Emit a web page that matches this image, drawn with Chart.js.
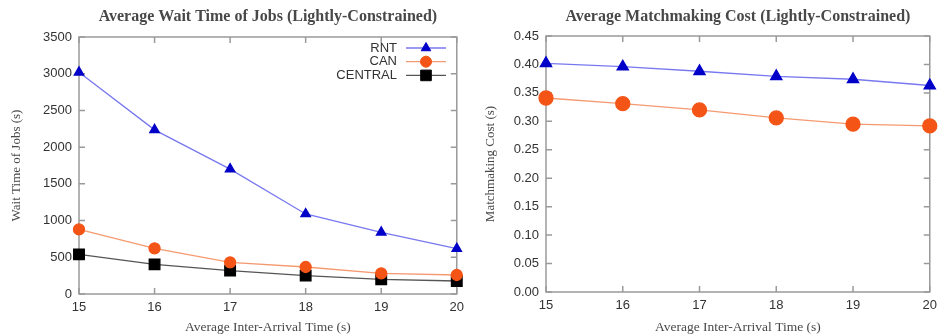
<!DOCTYPE html>
<html>
<head>
<meta charset="utf-8">
<script src="https://cdn.jsdelivr.net/npm/chart.js@4.4.1/dist/chart.umd.min.js"></script>
<style>
  html, body { margin: 0; padding: 0; background: #fff; }
  .wrap { display: flex; width: 943px; height: 336px; }
  #box1 { position: relative; width: 470px; height: 336px; }
  #box2 { position: relative; width: 473px; height: 336px; }
</style>
</head>
<body>
<div class="wrap">
  <div id="box1"><canvas id="chart1"></canvas></div>
  <div id="box2"><canvas id="chart2"></canvas></div>
</div>
<script>
// data
var arrivalTimes = [15, 16, 17, 18, 19, 20];

var waitRNT     = [3020, 2235, 1700, 1090, 840, 617];
var waitCAN     = [880, 622, 432, 368, 282, 259];
var waitCENTRAL = [540, 404, 318, 250, 200, 177];

var costRNT = [0.402, 0.396, 0.388, 0.379, 0.374, 0.363];
var costCAN = [0.341, 0.331, 0.320, 0.306, 0.295, 0.292];

var waitTicks = [0, 500, 1000, 1500, 2000, 2500, 3000, 3500];
var costTicks = [0, 0.05, 0.10, 0.15, 0.20, 0.25, 0.30, 0.35, 0.40, 0.45];

function pts(ys) {
	return arrivalTimes.map(function(x, i) { return { x: x, y: ys[i] }; });
}

var axisGray = "#9a9a9a";
var textGray = "#333333";
var serifGray = "#484848";

// gnuplot style frame with inward ticks on all four sides
var frameTicks = {
	id: "frameTicks",
	beforeDatasetsDraw: function(chart) {
		var ctx = chart.ctx, a = chart.chartArea, len = 6;
		var xs = chart.scales.x, ys = chart.scales.y;
		ctx.save();
		ctx.strokeStyle = axisGray;
		ctx.lineWidth = 1.5;
		ctx.strokeRect(a.left, a.top, a.right - a.left, a.bottom - a.top);
		ctx.beginPath();
		xs.ticks.forEach(function(t) {
			var px = xs.getPixelForValue(t.value);
			ctx.moveTo(px, a.bottom); ctx.lineTo(px, a.bottom - len);
			ctx.moveTo(px, a.top); ctx.lineTo(px, a.top + len);
		});
		ys.ticks.forEach(function(t) {
			var py = ys.getPixelForValue(t.value);
			ctx.moveTo(a.left, py); ctx.lineTo(a.left + len, py);
			ctx.moveTo(a.right, py); ctx.lineTo(a.right - len, py);
		});
		ctx.stroke();
		ctx.restore();
	}
};

// title centred over the plot area
var topTitle = {
	id: "topTitle",
	afterDraw: function(chart, args, opts) {
		var ctx = chart.ctx, a = chart.chartArea;
		ctx.save();
		ctx.fillStyle = serifGray;
		ctx.font = "bold 16px 'Liberation Serif', serif";
		ctx.textAlign = "center";
		ctx.textBaseline = "middle";
		ctx.fillText(opts.text, (a.left + a.right) / 2, opts.y);
		ctx.restore();
	}
};

// legend: label on the left, line sample with marker on the right
var keyBox = {
	id: "keyBox",
	afterDraw: function(chart, args, opts) {
		var ctx = chart.ctx;
		ctx.save();
		ctx.font = "13px 'Liberation Sans', Arial, sans-serif";
		ctx.textAlign = "right";
		ctx.textBaseline = "middle";
		chart.data.datasets.forEach(function(ds, i) {
			var y = opts.y + i * opts.rowH;
			ctx.fillStyle = textGray;
			ctx.fillText(ds.label, opts.x, y);
			ctx.strokeStyle = ds.borderColor;
			ctx.lineWidth = ds.borderWidth;
			ctx.beginPath();
			ctx.moveTo(opts.x + 9, y);
			ctx.lineTo(opts.x + 9 + opts.lineLen, y);
			ctx.stroke();
			ctx.fillStyle = ds.pointBackgroundColor;
			ctx.strokeStyle = ds.pointBorderColor;
			ctx.lineWidth = 1;
			Chart.helpers.drawPoint(ctx, {
				pointStyle: ds.pointStyle,
				radius: ds.pointRadius,
				rotation: 0,
				borderWidth: 1
			}, opts.x + 9 + opts.lineLen / 2, y);
		});
		ctx.restore();
	}
};

function makeChart(id, cfg) {
	var tickFont = { family: "'Liberation Sans', Arial, sans-serif", size: 13 };
	var axisFont = { family: "'Liberation Serif', serif", size: 13.5 };
	cfg.datasets.forEach(function(ds) { ds.clip = false; });
	return new Chart(document.getElementById(id), {
		type: "line",
		data: { datasets: cfg.datasets },
		options: {
			responsive: true,
			maintainAspectRatio: false,
			animation: false,
			layout: { padding: { top: cfg.top, right: cfg.right, left: 0, bottom: 0 } },
			plugins: {
				legend: { display: false },
				tooltip: { enabled: false },
				topTitle: { text: cfg.title, y: 17 },
				keyBox: cfg.key
			},
			scales: {
				x: {
					type: "linear",
					min: 15,
					max: 20,
					afterFit: function(s) { s.height = cfg.xAxisH; },
					grid: { display: false, drawTicks: false },
					border: { display: false },
					ticks: { stepSize: 1, padding: 6, color: textGray, font: tickFont },
					title: {
						display: true,
						text: "Average Inter-Arrival Time (s)",
						color: serifGray,
						font: axisFont,
						padding: { top: 0, bottom: 0 }
					}
				},
				y: {
					min: cfg.yTicks[0],
					max: cfg.yTicks[cfg.yTicks.length - 1],
					afterFit: function(s) { s.width = cfg.yAxisW; },
					afterBuildTicks: function(s) {
						s.ticks = cfg.yTicks.map(function(v) { return { value: v }; });
					},
					grid: { display: false, drawTicks: false },
					border: { display: false },
					ticks: {
						padding: 7,
						color: textGray,
						font: tickFont,
						callback: cfg.yFmt
					},
					title: {
						display: true,
						text: cfg.yTitle,
						color: serifGray,
						font: { family: "'Liberation Serif', serif", size: 13 },
						padding: { top: cfg.yTitlePad, bottom: 0 }
					}
				}
			}
		},
		plugins: [frameTicks, topTitle, keyBox]
	});
}

// chart 1
makeChart("chart1", {
	title: "Average Wait Time of Jobs (Lightly-Constrained)",
	yTitle: "Wait Time of Jobs (s)",
	yTicks: waitTicks,
	yFmt: function(v) { return String(v); },
	top: 37, right: 8, xAxisH: 42, yAxisW: 79, yTitlePad: 9,
	key: { x: 397, y: 48, rowH: 13.7, lineLen: 40 },
	datasets: [{
		label: "RNT",
		data: pts(waitRNT),
		borderColor: "#7878f0",
		borderWidth: 1.3,
		pointStyle: "triangle",
		pointRadius: 5.5,
		pointBackgroundColor: "#0000c8",
		pointBorderColor: "#0000c8"
	}, {
		label: "CAN",
		data: pts(waitCAN),
		borderColor: "#f59a70",
		borderWidth: 1.3,
		pointStyle: "circle",
		pointRadius: 5.5,
		pointBackgroundColor: "#f45516",
		pointBorderColor: "#f45516"
	}, {
		label: "CENTRAL",
		data: pts(waitCENTRAL),
		borderColor: "#555555",
		borderWidth: 1.3,
		pointStyle: "rect",
		pointRadius: 7.5,
		pointBackgroundColor: "#000000",
		pointBorderColor: "#000000"
	}]
});

// chart 2
makeChart("chart2", {
	title: "Average Matchmaking Cost (Lightly-Constrained)",
	yTitle: "Matchmaking Cost (s)",
	yTicks: costTicks,
	yFmt: function(v) { return Number(v).toFixed(2); },
	top: 36, right: 8, xAxisH: 44, yAxisW: 76, yTitlePad: 13,
	key: { x: 868, y: 268, rowH: 14, lineLen: 43 },
	datasets: [{
		label: "RNT",
		data: pts(costRNT),
		borderColor: "#7878f0",
		borderWidth: 1.3,
		pointStyle: "triangle",
		pointRadius: 6.5,
		pointBackgroundColor: "#0000c8",
		pointBorderColor: "#0000c8"
	}, {
		label: "CAN",
		data: pts(costCAN),
		borderColor: "#f59a70",
		borderWidth: 1.3,
		pointStyle: "circle",
		pointRadius: 7,
		pointBackgroundColor: "#f45516",
		pointBorderColor: "#f45516"
	}]
});
</script>
</body>
</html>
